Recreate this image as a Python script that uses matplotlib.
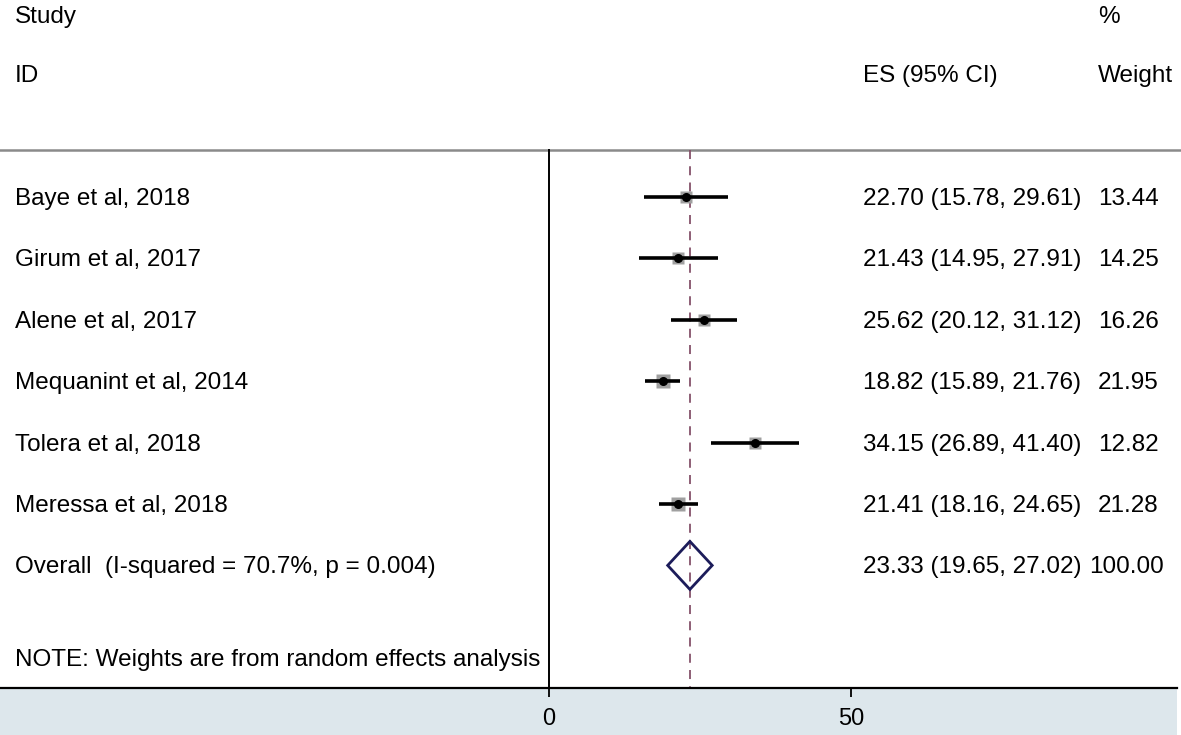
import matplotlib
matplotlib.use("Agg")
import matplotlib.pyplot as plt
from matplotlib.patches import Polygon, Rectangle
import numpy as np

studies = ["Baye et al, 2018", "Girum et al, 2017", "Alene et al, 2017",
           "Mequanint et al, 2014", "Tolera et al, 2018", "Meressa et al, 2018"]
es = [22.70, 21.43, 25.62, 18.82, 34.15, 21.41]
lo = [15.78, 14.95, 20.12, 15.89, 26.89, 18.16]
hi = [29.61, 27.91, 31.12, 21.76, 41.40, 24.65]
weights = [13.44, 14.25, 16.26, 21.95, 12.82, 21.28]
overall_label = "Overall  (I-squared = 70.7%, p = 0.004)"
overall = (23.33, 19.65, 27.02)
overall_weight = "100.00"
xticks = [0, 50]

W, H = 1181, 735
fig = plt.figure(figsize=(W / 100, H / 100), dpi=100)
fig.patch.set_facecolor("white")
plt.rcParams["font.family"] = ["Liberation Sans", "DejaVu Sans"]

# bottom band
fig.add_artist(Rectangle((0, 0), 1177 / W, 1 - 688 / H, transform=fig.transFigure,
                         facecolor="#dde7ec", edgecolor="none", zorder=0))

ax = fig.add_axes([0, 1 - 688 / H, 1177 / W, 688 / H])
ax.set_facecolor("none")
x0px, scale = 549, 6.04
ax.set_xlim((0 - x0px) / scale, (1177 - x0px) / scale)
row0, rowh = 197, 61.4
ax.set_ylim((688 - row0) / rowh, (0 - row0) / rowh)

def px(p):
    return (p - x0px) / scale

def py(p):
    return (p - row0) / rowh

for s in ["top", "left", "right"]:
    ax.spines[s].set_visible(False)
ax.spines["bottom"].set_linewidth(1.6)
ax.set_yticks([])
ax.set_xticks(xticks)
ax.tick_params(axis="x", direction="out", length=6.5, width=1.3, labelsize=17, pad=8, colors="black")

fs = 17.5
toff = 2 / rowh  # small baseline offset
top_line = py(150)
ax.plot([px(0), px(1181)], [top_line, top_line], color="#8a8a8a", lw=1.8, clip_on=False)
ax.plot([0, 0], [top_line, py(688)], color="black", lw=1.4)
ax.plot([overall[0], overall[0]], [top_line, py(688)], color="#85526a", lw=1.3,
        dashes=(5, 4))

def txt(x, y, s):
    ax.text(x, y + toff, s, fontsize=fs, va="center", ha="left")

# headers
txt(px(15), py(15), "Study")
txt(px(15), py(74), "ID")
txt(px(863), py(74), "ES (95% CI)")
txt(px(1098), py(15), "%")
txt(px(1098), py(74), "Weight")

for i, (name, e, l, h, w) in enumerate(zip(studies, es, lo, hi, weights)):
    txt(px(15), i, name)
    txt(px(863), i, f"{e:.2f} ({l:.2f}, {h:.2f})")
    txt(px(1098), i, f"{w:.2f}")
    ax.plot([l, h], [i, i], color="black", lw=2.6, solid_capstyle="butt", zorder=3)
    side = 3.2 * np.sqrt(w)
    ax.plot(e, i, marker="s", markersize=side * 0.72, color="#a0a0a0",
            markeredgecolor="none", zorder=2)
    ax.plot(e, i, marker="o", markersize=5.5, color="black", zorder=5)

r = len(studies)
txt(px(15), r, overall_label)
txt(px(863), r, f"{overall[0]:.2f} ({overall[1]:.2f}, {overall[2]:.2f})")
txt(px(1089), r, overall_weight)
dh = 24 / rowh
ax.add_patch(Polygon([[overall[1], r], [overall[0], r - dh], [overall[2], r], [overall[0], r + dh]],
                     closed=True, facecolor="none", edgecolor="#1c1c5a", lw=2.0, zorder=5))

txt(px(15), py(658), "NOTE: Weights are from random effects analysis")

fig.savefig("out.png", dpi=100)
